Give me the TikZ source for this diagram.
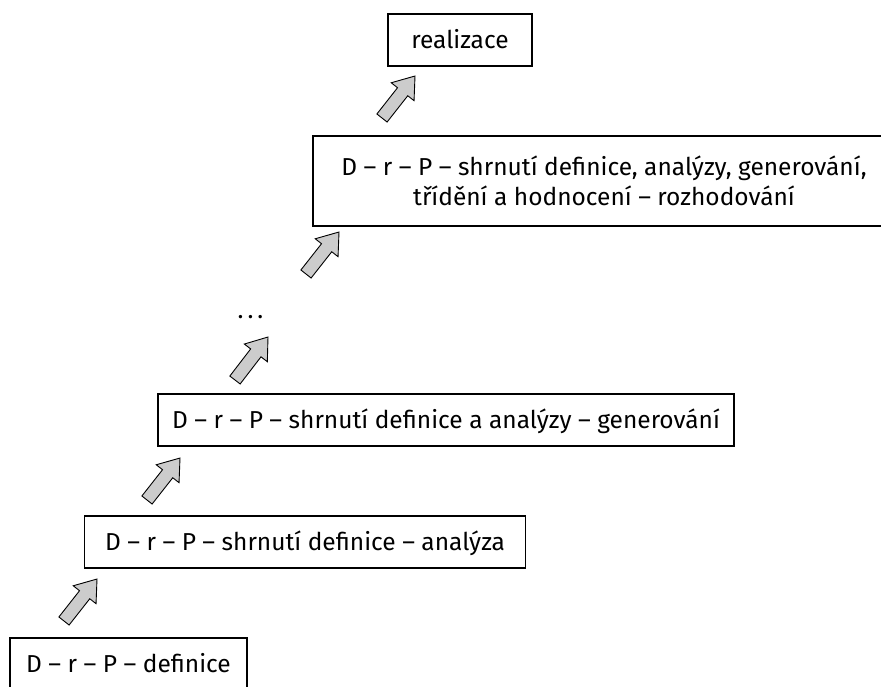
\documentclass[tikz,border=0pt]{standalone}
\usepackage{fontspec}
\setmainfont{Fira Sans}
\usetikzlibrary{calc}
\tikzset{
  txt/.style={font=\fontsize{24.5}{30}\selectfont},
  boxbase/.style={draw=black, line width=1.2pt, fill=white, inner sep=0pt, txt},
  box/.style={boxbase, text height=16pt, text depth=0pt},
  barrow/.style={draw=black, line width=0.9pt, fill=gray!40, line join=miter},
}
\newcommand\blockarrow[1]{%
  \coordinate (#1b) at ($(#1h)!20pt!(#1t)$);
  \draw[barrow] ($(#1t)!6.5pt!90:(#1h)$) -- ($(#1b)!6.5pt!90:(#1h)$) -- ($(#1b)!14.5pt!90:(#1h)$) -- (#1h) -- ($(#1b)!14.5pt!-90:(#1h)$) -- ($(#1b)!6.5pt!-90:(#1h)$) -- ($(#1t)!6.5pt!-90:(#1h)$) -- cycle;
}
\begin{document}
\begin{tikzpicture}[x=1pt,y=-1pt]
\useasboundingbox (0,0) rectangle (881,686);
\clip (0,0) rectangle (881,686);
% boxes
\node[box, minimum width=237pt, minimum height=52pt] (b1) at (128.5,664) {D – r – P – definice};
\node[box, minimum width=441pt, minimum height=52pt] (b2) at (305,542) {D – r – P – shrnutí definice – analýza};
\node[box, minimum width=576pt, minimum height=52pt] (b3) at (446,420) {D – r – P – shrnutí definice a analýzy – generování};
\node[boxbase, minimum width=582pt, minimum height=90pt, align=center] (b4) at (604,181) {D – r – P – shrnutí definice, analýzy, generování,\\třídění a hodnocení – rozhodování};
\node[box, minimum width=144pt, minimum height=52pt] (b5) at (460,40) {realizace};
\node[txt, anchor=base, inner sep=0pt] (dots) at (250.5,318) {.\hspace{4pt}.\hspace{4pt}.};
% arrows
\coordinate (a1t) at (64,621);  \coordinate (a1h) at (97,579);
\coordinate (a2t) at (147,500); \coordinate (a2h) at (180,458);
\coordinate (a3t) at (235,380); \coordinate (a3h) at (268,337);
\coordinate (a4t) at (306,274); \coordinate (a4h) at (339,232);
\coordinate (a5t) at (382,118); \coordinate (a5h) at (415,76);
\blockarrow{a1}
\blockarrow{a2}
\blockarrow{a3}
\blockarrow{a4}
\blockarrow{a5}
\end{tikzpicture}
\end{document}
